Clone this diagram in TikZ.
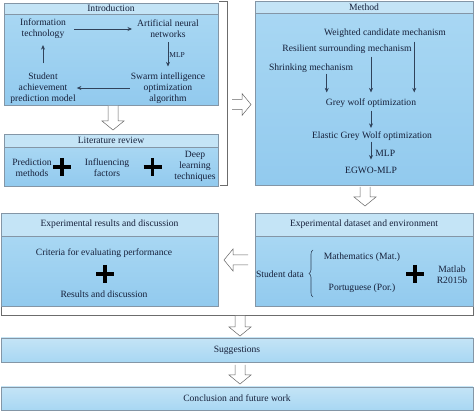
\documentclass[tikz,border=0pt]{standalone}
\usepackage{fontspec}
\setmainfont{Liberation Serif}
\usetikzlibrary{positioning,arrows.meta,decorations.pathreplacing}

\definecolor{barblue}{RGB}{196,228,246}
\definecolor{bodytop}{RGB}{168,215,243}
\definecolor{bodybot}{RGB}{146,202,238}
\definecolor{edgegray}{RGB}{132,150,166}
\definecolor{ink}{RGB}{22,32,58}
\definecolor{arrowink}{RGB}{48,66,90}

\begin{document}
\begin{tikzpicture}[x=1pt, y=-1pt, font=\fontsize{9.6}{11}\selectfont,
	bar/.style={draw=edgegray, fill=barblue, inner sep=0pt, text=ink},
	body/.style={draw=edgegray, top color=bodytop, bottom color=bodybot, inner sep=0pt},
	txt/.style={align=center, inner sep=1pt, text=ink},
	arr/.style={-{Stealth[length=4.5pt,width=4pt]}, arrowink, line width=0.7pt},
	frame/.style={draw=gray!85!black, line width=0.7pt},
	hollowline/.style={draw=gray!80!black, line width=0.5pt, fill=white},
	pics/hollow/.style={code={\draw[hollowline] (0,-5) -- (#1,-5) -- (#1,-11) -- ++(9,11) -- (#1,11) -- (#1,5) -- (0,5);}},
	pics/bigplus/.style={code={\draw[line width=3.4pt, black] (-9,0) -- (9,0) (0,-9) -- (0,9);}}]
	\useasboundingbox (0,0) rectangle (474,411);

	% brackets round the upper and middle rows
	\draw[frame] (219,1) -- (227,1) -- (227,185) -- (220,185);
	\draw[frame] (1,307) -- (1,315) -- (473,315) -- (473,307);

	% section boxes
	\node[bar, minimum width=214pt, minimum height=11pt] (introT) at (111,8.5) {Introduction};
	\node[body, minimum width=214pt, minimum height=91pt, anchor=north] (introB) at (introT.south) {};
	\node[bar, minimum width=214pt, minimum height=13pt] (litT) at (111,140.5) {Literature review};
	\node[body, minimum width=214pt, minimum height=39pt, anchor=north] (litB) at (litT.south) {};
	\node[bar, minimum width=218pt, minimum height=12pt] (methT) at (364,7) {Method};
	\node[body, minimum width=218pt, minimum height=172pt, anchor=north] (methB) at (methT.south) {};
	\node[bar, minimum width=218pt, minimum height=23pt] (dataT) at (364,224.5) {Experimental dataset and environment};
	\node[body, minimum width=218pt, minimum height=70pt, anchor=north] (dataB) at (dataT.south) {};
	\node[bar, minimum width=217pt, minimum height=23pt] (resT) at (109.5,224.5) {Experimental results and discussion};
	\node[body, minimum width=217pt, minimum height=70pt, anchor=north] (resB) at (resT.south) {};
	\node[body, top color=barblue, bottom color=bodytop, minimum width=472pt, minimum height=24pt, text=ink] (sugg) at (237,350) {Suggestions};
	\node[body, top color=barblue, bottom color=bodytop, minimum width=472pt, minimum height=23pt, text=ink] (concl) at (237,398.5) {Conclusion and future work};

	% introduction
	\node[txt] (info) at (43,29) {Information\\technology};
	\node[txt] (ann) at (168,29) {Artificial neural\\networks};
	\node[txt] (swarm) at (168,88) {Swarm intelligence\\optimization\\algorithm};
	\node[txt] (student) at (43,88) {Student\\achievement\\prediction model};
	\draw[arr, shorten <=7pt, shorten >=4pt] (info) -- (ann);
	\draw[arr, shorten <=3pt, shorten >=5pt] (ann) -- node[right, txt, font=\fontsize{7.5}{9}\selectfont] {MLP} (swarm);
	\draw[arr] (swarm) -- (student);
	\draw[arr, shorten <=8pt, shorten >=5pt] (student) -- (info);

	% literature review
	\node[txt] (pred) at (32,168) {Prediction\\methods};
	\node[txt] (infl) at (107,168) {Influencing\\factors};
	\node[txt] (deep) at (195,166) {Deep\\learning\\techniques};
	\pic at (62,167) {bigplus};
	\pic at (152.5,167) {bigplus};

	% method
	\node[txt] (weighted) at (385,33) {Weighted candidate mechanism};
	\node[txt] (resil) at (347,49) {Resilient surrounding mechanism};
	\node[txt] (shrink) at (311,68) {Shrinking mechanism};
	\node[txt] (gwo) at (371,103) {Grey wolf optimization};
	\node[txt] (egwo) at (372,136) {Elastic Grey Wolf optimization};
	\node[txt] (egwomlp) at (371,170) {EGWO-MLP};
	\coordinate (g1) at ([xshift=2pt]gwo.north west);
	\coordinate (g3) at ([xshift=-3pt]gwo.north east);
	\draw[arr, shorten >=5pt] (shrink.south -| g1) -- (g1);
	\draw[arr, shorten <=2pt, shorten >=5pt] (resil.south -| gwo.north) -- (gwo.north);
	\draw[arr, shorten <=3pt, shorten >=5pt] (weighted.south -| g3) -- (g3);
	\draw[arr, shorten <=2pt, shorten >=2.5pt] (gwo.south) -- (gwo.south |- egwo.north);
	\draw[arr, shorten >=6pt] (gwo.south |- egwo.south) -- node[right, txt, xshift=3pt] {MLP} (gwo.south |- egwomlp.north);

	% dataset and environment
	\node[txt] (stud) at (280,274) {Student data};
	\node[txt] (math) at (362,257) {Mathematics (Mat.)};
	\node[txt] (port) at (362,288) {Portuguese (Por.)};
	\node[txt] (matlab) at (452,275) {Matlab\\R2015b};
	\draw[arrowink, line width=0.6pt, decorate, decoration={brace, amplitude=4pt}] (313,297) -- (313,250);
	\pic at (415,274) {bigplus};

	% results and discussion
	\node[txt] (crit) at (104,253) {Criteria for evaluating performance};
	\node[txt] (resdisc) at (104,294) {Results and discussion};
	\pic at (105,274) {bigplus};

	% hollow arrows between the parts
	\pic[rotate=-90] at (113,106) {hollow=15};
	\pic at (232,104.5) {hollow=10};
	\pic[rotate=-90] at (365,187) {hollow=10};
	\pic[rotate=180] at (248,260) {hollow=15};
	\pic[rotate=-90] at (240,316) {hollow=11};
	\pic[rotate=-90] at (240,365) {hollow=10};
\end{tikzpicture}
\end{document}
